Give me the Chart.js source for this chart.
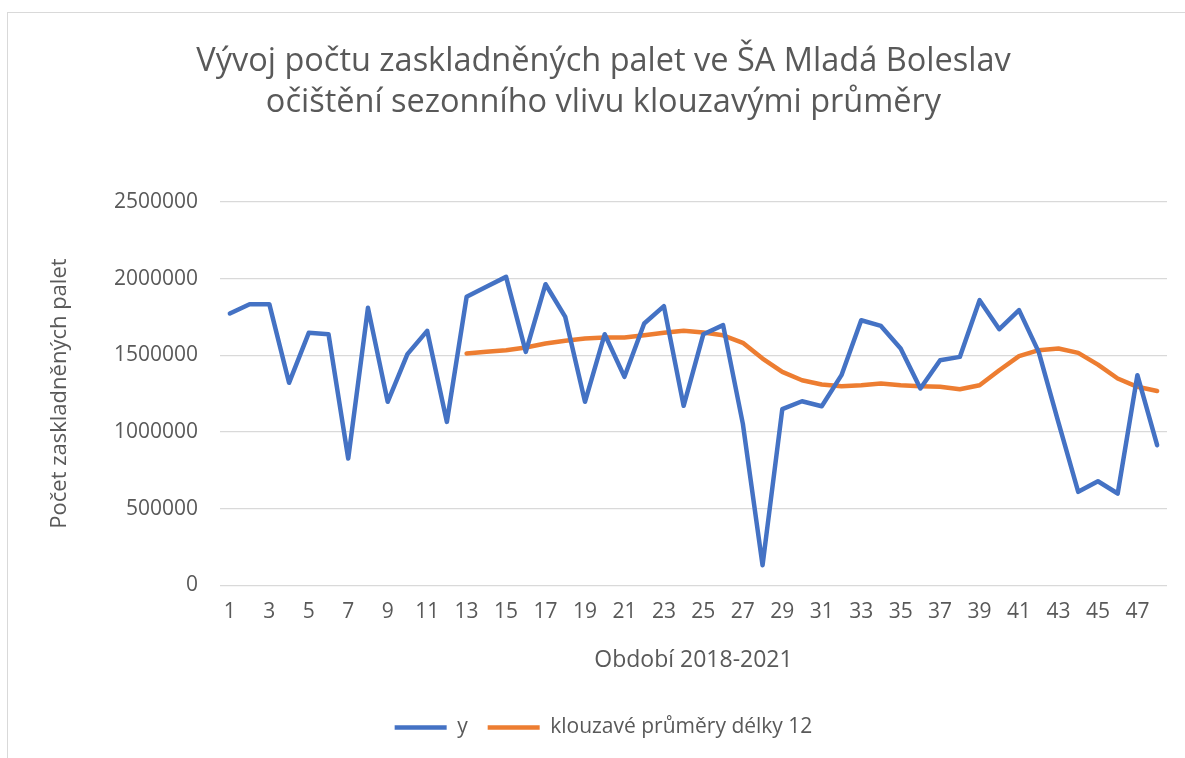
<!DOCTYPE html>
<html>
<head>
<meta charset="utf-8">
<script src="https://cdn.jsdelivr.net/npm/chart.js@4.4.0/dist/chart.umd.min.js"></script>
<style>
  html, body { margin: 0; padding: 0; background: #fff; overflow: hidden; }
  #frame { position: absolute; left: 7px; top: 12px; width: 1300px; height: 900px; border: 1px solid #d9d9d9; }
  #wrap { position: absolute; left: 0; top: 0; width: 1185px; height: 758px; }
</style>
</head>
<body>
<div id="frame"></div>
<div id="wrap"><canvas id="graf" width="1185" height="758"></canvas></div>
<script>
// obdobi 1..48 (2018-2021)
const obdobi = Array.from({ length: 48 }, (_, i) => String(i + 1));

const hodnotyY = [
  1772000, 1833000, 1833000, 1320000, 1646000, 1637000, 826000, 1809000,
  1196000, 1507000, 1659000, 1065000, 1881000, 1946000, 2011000, 1522000,
  1963000, 1750000, 1196000, 1637000, 1359000, 1707000, 1820000, 1170000,
  1637000, 1696000, 1054000, 130000, 1148000, 1200000, 1167000, 1370000,
  1728000, 1691000, 1544000, 1283000, 1467000, 1489000, 1859000, 1670000,
  1794000, 1520000, 1060000, 609000, 678000, 598000, 1370000, 913000
];

// klouzave prumery delky 12 - prvnich 12 obdobi bez hodnoty
const klouzave = [
  null, null, null, null, null, null, null, null, null, null, null, null,
  1511000, 1522000, 1533000, 1550000, 1576000, 1594000, 1609000, 1615000,
  1615000, 1630000, 1646000, 1659000, 1648000, 1630000, 1581000, 1478000,
  1391000, 1337000, 1309000, 1298000, 1304000, 1315000, 1304000, 1298000,
  1294000, 1278000, 1304000, 1402000, 1494000, 1533000, 1544000, 1515000,
  1439000, 1348000, 1294000, 1267000
];

const yTicks = [0, 500000, 1000000, 1500000, 2000000, 2500000];

const sedy = "#595959";
const pismo = "'Open Sans', sans-serif";

new Chart(document.getElementById("graf"), {
  type: "line",
  data: {
    labels: obdobi,
    datasets: [
      {
        label: "y",
        data: hodnotyY,
        borderColor: "#4472C4",
        backgroundColor: "#4472C4",
        borderWidth: 4.5,
        borderCapStyle: "round",
        borderJoinStyle: "round",
        pointRadius: 0,
        tension: 0,
      },
      {
        label: "klouzavé průměry délky 12",
        data: klouzave,
        borderColor: "#ED7D31",
        backgroundColor: "#ED7D31",
        borderWidth: 4.5,
        borderCapStyle: "round",
        borderJoinStyle: "round",
        pointRadius: 0,
        tension: 0,
      },
    ],
  },
  options: {
    responsive: false,
    animation: false,
    layout: { padding: { left: 40, right: 18, top: 0, bottom: 10 } },
    plugins: {
      title: {
        display: true,
        text: ["Vývoj počtu zaskladněných palet ve ŠA Mladá Boleslav", "očištění sezonního vlivu klouzavými průměry"],
        color: sedy,
        font: { family: pismo, size: 32.5, weight: "normal", lineHeight: 1.26 },
        padding: { top: 41, bottom: 79 },
      },
      legend: {
        position: "bottom",
        labels: {
          color: sedy,
          font: { family: pismo, size: 21 },
          usePointStyle: true,
          pointStyle: "line",
          pointStyleWidth: 52,
          padding: 20,
        },
      },
      tooltip: { enabled: false },
    },
    scales: {
      x: {
        offset: true,
        grid: { display: false, drawTicks: false },
        border: { display: false },
        ticks: {
          color: sedy,
          font: { family: pismo, size: 21 },
          autoSkip: false,
          maxRotation: 0,
          padding: 14,
          callback: (v, i) => (i % 2 === 0 ? obdobi[i] : ""),
        },
        title: {
          display: true,
          text: "Období 2018-2021",
          color: sedy,
          font: { family: pismo, size: 23 },
          padding: { top: 8, bottom: 23 },
        },
      },
      y: {
        min: 0,
        max: 2500000,
        afterBuildTicks: (s) => { s.ticks = yTicks.map((v) => ({ value: v })); },
        afterFit: (s) => { s.width = 180; },
        grid: { color: "#d9d9d9", lineWidth: 1.3, drawTicks: false },
        border: { display: false },
        ticks: {
          color: sedy,
          font: { family: pismo, size: 21 },
          padding: 22,
          callback: (v) => String(v),
        },
        title: {
          display: true,
          text: "Počet zaskladněných palet",
          color: sedy,
          font: { family: pismo, size: 22 },
          padding: { top: 7, bottom: 0 },
        },
      },
    },
  },
});
</script>
</body>
</html>
